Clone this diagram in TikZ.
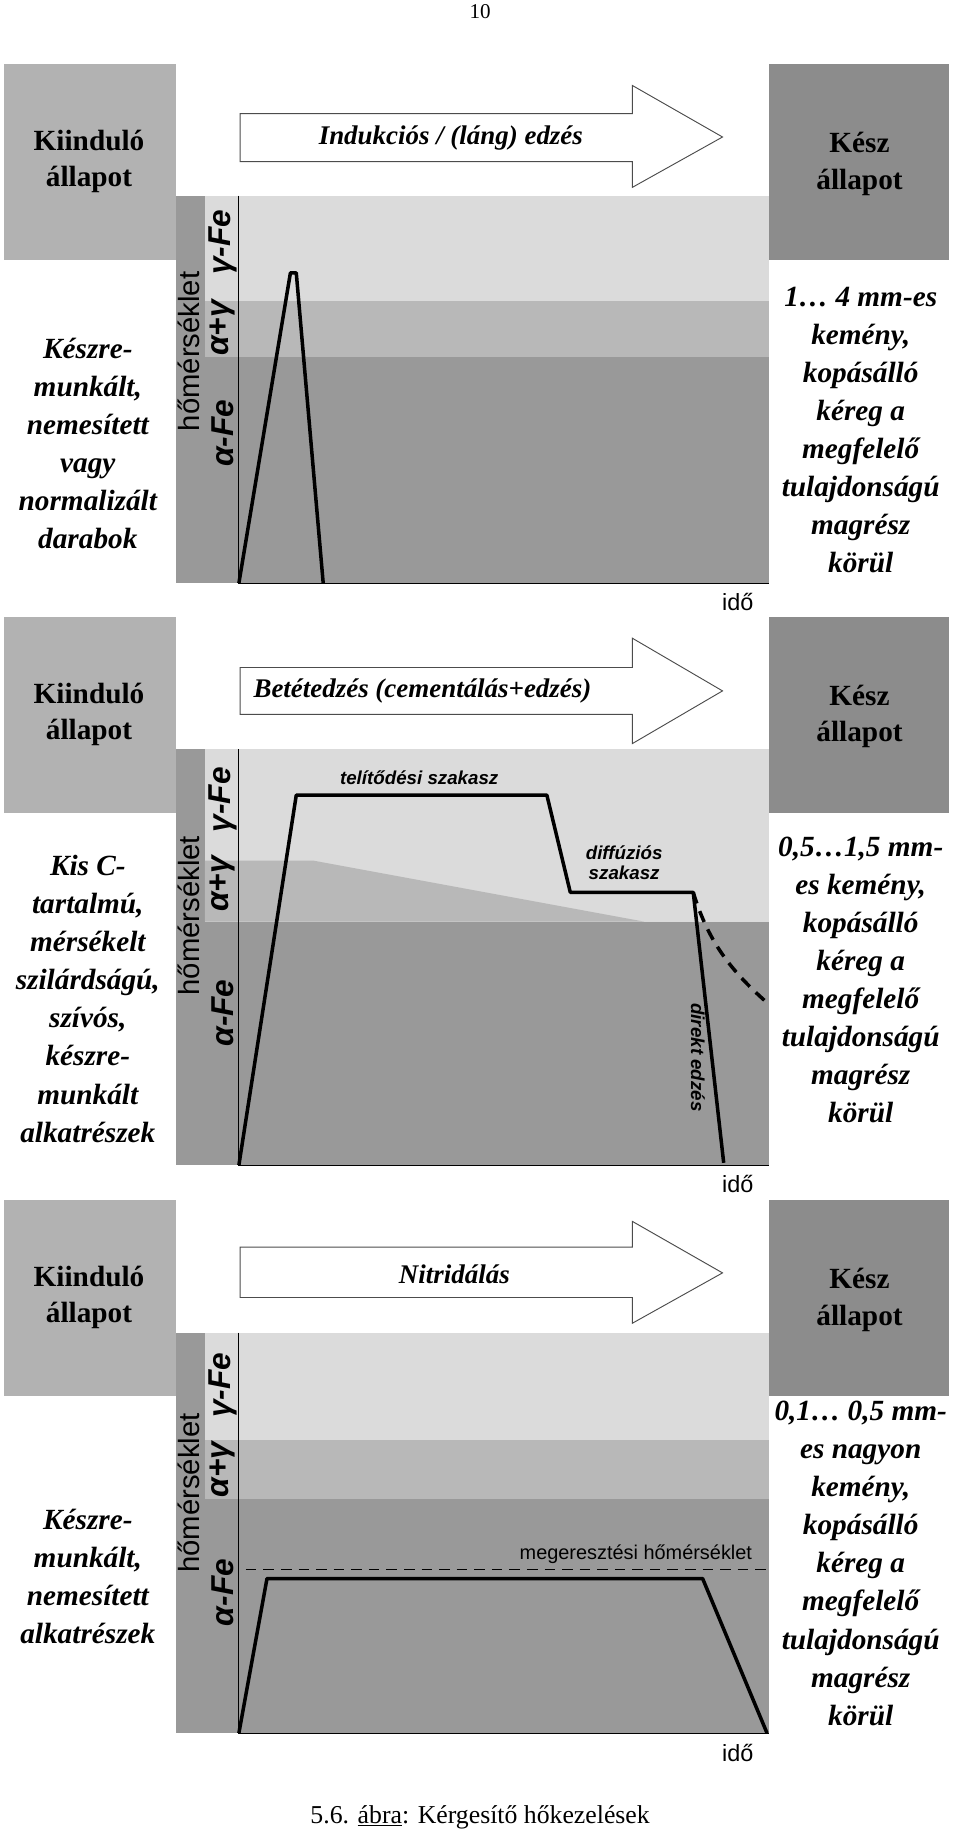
\documentclass[tikz,border=0pt]{standalone}
\usepackage{fontspec}
\setmainfont{Liberation Serif}
\setsansfont{Liberation Sans}
\begin{document}
\begin{tikzpicture}[x=1pt,y=-1pt,
  lbox/.style={fill=black!30},
  rbox/.style={fill=black!45},
  boxtxt/.style={font=\fontsize{25}{31}\selectfont\bfseries,align=center},
  sidetxt/.style={font=\fontsize{25}{32.5}\selectfont\bfseries\itshape,align=center},
  arrtxt/.style={font=\fontsize{23}{28}\selectfont\bfseries\itshape},
  axlab/.style={font=\fontsize{25}{28}\selectfont\sffamily,rotate=90},
  phlab/.style={font=\fontsize{27}{28}\selectfont\sffamily\bfseries\itshape,rotate=90},
  small/.style={font=\fontsize{16}{18}\selectfont\sffamily\bfseries\itshape,align=center},
  curve/.style={line width=3pt,line join=round},
  ax/.style={line width=1pt},
  bigarrow/.style={draw=black!70,fill=white,line width=0.8pt}]
\useasboundingbox (0,0) rectangle (820,1573);
\node (pn) at (410,10) {\fontsize{18}{20}\selectfont 10};

% ---------- Panel 1 ----------
\fill[lbox] (3,55) rectangle (150,222);
\fill[rbox] (657,55) rectangle (810,222);
\node[boxtxt] (k1) at (76,138) {Kiinduló\\állapot};
\node[boxtxt] (e1) at (734,140) {Kész\\állapot};
\draw[bigarrow] (205,97) -- (540,97) -- (540,73) -- (617,117) -- (540,160) -- (540,138) -- (205,138) -- cycle;
\node[arrtxt] (a1) at (385,118) {Indukciós / (láng) edzés};
\fill[black!40] (150,167) rectangle (175,498);
\fill[black!14] (175,167) rectangle (657,257);
\fill[black!28] (175,257) rectangle (657,305);
\fill[black!40] (175,305) rectangle (657,498);
\draw[ax] (204,167) -- (204,498) -- (657,498);
\node[axlab] (h1) at (161,300) {hőmérséklet};
\node[phlab] (f1a) at (190,370) {α-Fe};
\node[phlab] (f1b) at (190,280) {α+γ};
\node[phlab] (f1c) at (190,207) {γ-Fe};
\coordinate (c1a) at (204,498); \coordinate (c1b) at (248,233);
\coordinate (c1c) at (253,233); \coordinate (c1d) at (276,498);
\draw[curve] (c1a) -- (c1b) -- (c1c) -- (c1d);
\node[font=\fontsize{20}{22}\selectfont\sffamily] (t1) at (630,514) {idő};
\node[sidetxt] (l1) at (75,379) {Készre-\\munkált,\\nemesített\\vagy\\normalizált\\darabok};
\node[sidetxt] (r1) at (735,367) {1\ldots\ 4 mm-es\\kemény,\\kopásálló\\kéreg a\\megfelelő\\tulajdonságú\\magrész\\körül};

% ---------- Panel 2 ----------
\fill[lbox] (3,527) rectangle (150,694);
\fill[rbox] (657,527) rectangle (810,694);
\node[boxtxt] (k2) at (76,610) {Kiinduló\\állapot};
\node[boxtxt] (e2) at (734,612) {Kész\\állapot};
\draw[bigarrow] (205,570) -- (540,570) -- (540,545) -- (617,590) -- (540,635) -- (540,610) -- (205,610) -- cycle;
\node[arrtxt,anchor=west] (a2) at (213,590) {Betétedzés (cementálás+edzés)};
\fill[black!40] (150,640) rectangle (175,995);
\fill[black!14] (175,640) rectangle (657,787);
\fill[black!28] (175,735) -- (268,735) -- (550,787) -- (175,787) -- cycle;
\fill[black!40] (175,787) rectangle (657,995);
\draw[ax] (204,640) -- (204,995) -- (657,995);
\node[axlab] (h2) at (161,782) {hőmérséklet};
\node[phlab] (f2a) at (190,865) {α-Fe};
\node[phlab] (f2b) at (190,755) {α+γ};
\node[phlab] (f2c) at (190,683) {γ-Fe};
\coordinate (c2a) at (204,995); \coordinate (c2b) at (253,679);
\coordinate (c2c) at (467,679); \coordinate (c2d) at (487,762);
\coordinate (c2e) at (592,762); \coordinate (c2f) at (618,993);
\coordinate (c2g) at (657,858);
\draw[curve] (c2a) -- (c2b) -- (c2c) -- (c2d) -- (c2e) -- (c2f);
\draw[curve,dash pattern=on 10pt off 7pt] (c2e) .. controls (605,805) and (625,830) .. (c2g);
\node[small] (s2a) at (358,664) {telítődési szakasz};
\node[small,font=\fontsize{16}{17}\selectfont\sffamily\bfseries\itshape] (s2b) at (533,737) {diffúziós\\szakasz};
\node[small,rotate=-90] (s2c) at (596,903) {direkt edzés};
\node[font=\fontsize{20}{22}\selectfont\sffamily] (t2) at (630,1011) {idő};
\node[sidetxt] (l2) at (75,853) {Kis C-\\tartalmú,\\mérsékelt\\szilárdságú,\\szívós,\\készre-\\munkált\\alkatrészek};
\node[sidetxt] (r2) at (735,837) {0,5\ldots1,5 mm-\\es kemény,\\kopásálló\\kéreg a\\megfelelő\\tulajdonságú\\magrész\\körül};

% ---------- Panel 3 ----------
\fill[lbox] (3,1025) rectangle (150,1192);
\fill[rbox] (657,1025) rectangle (810,1192);
\node[boxtxt] (k3) at (76,1108) {Kiinduló\\állapot};
\node[boxtxt] (e3) at (734,1110) {Kész\\állapot};
\draw[bigarrow] (205,1065) -- (540,1065) -- (540,1043) -- (617,1087) -- (540,1130) -- (540,1108) -- (205,1108) -- cycle;
\node[arrtxt] (a3) at (388,1088) {Nitridálás};
\fill[black!40] (150,1138) rectangle (175,1480);
\fill[black!14] (175,1138) rectangle (657,1230);
\fill[black!28] (175,1230) rectangle (657,1280);
\fill[black!40] (175,1280) rectangle (657,1480);
\draw[ax] (204,1138) -- (204,1480) -- (657,1480);
\node[axlab] (h3) at (161,1275) {hőmérséklet};
\node[phlab] (f3a) at (190,1360) {α-Fe};
\node[phlab] (f3b) at (190,1255) {α+γ};
\node[phlab] (f3c) at (190,1183) {γ-Fe};
\coordinate (d3a) at (210,1340); \coordinate (d3b) at (657,1340);
\draw[line width=1pt,dash pattern=on 9pt off 6pt] (d3a) -- (d3b);
\node[font=\fontsize{17}{19}\selectfont\sffamily] (m3) at (543,1327) {megeresztési hőmérséklet};
\coordinate (c3a) at (204,1480); \coordinate (c3b) at (228,1348);
\coordinate (c3c) at (600,1348); \coordinate (c3d) at (655,1480);
\draw[curve] (c3a) -- (c3b) -- (c3c) -- (c3d);
\node[font=\fontsize{20}{22}\selectfont\sffamily] (t3) at (630,1497) {idő};
\node[sidetxt] (l3) at (75,1346) {Készre-\\munkált,\\nemesített\\alkatrészek};
\node[sidetxt] (r3) at (735,1335) {0,1\ldots\ 0,5 mm-\\es nagyon\\kemény,\\kopásálló\\kéreg a\\megfelelő\\tulajdonságú\\magrész\\körül};

\node[font=\fontsize{22}{24}\selectfont] (cap) at (410,1552) {5.6. \underline{ábra}: Kérgesítő hőkezelések};
\end{tikzpicture}
\end{document}
